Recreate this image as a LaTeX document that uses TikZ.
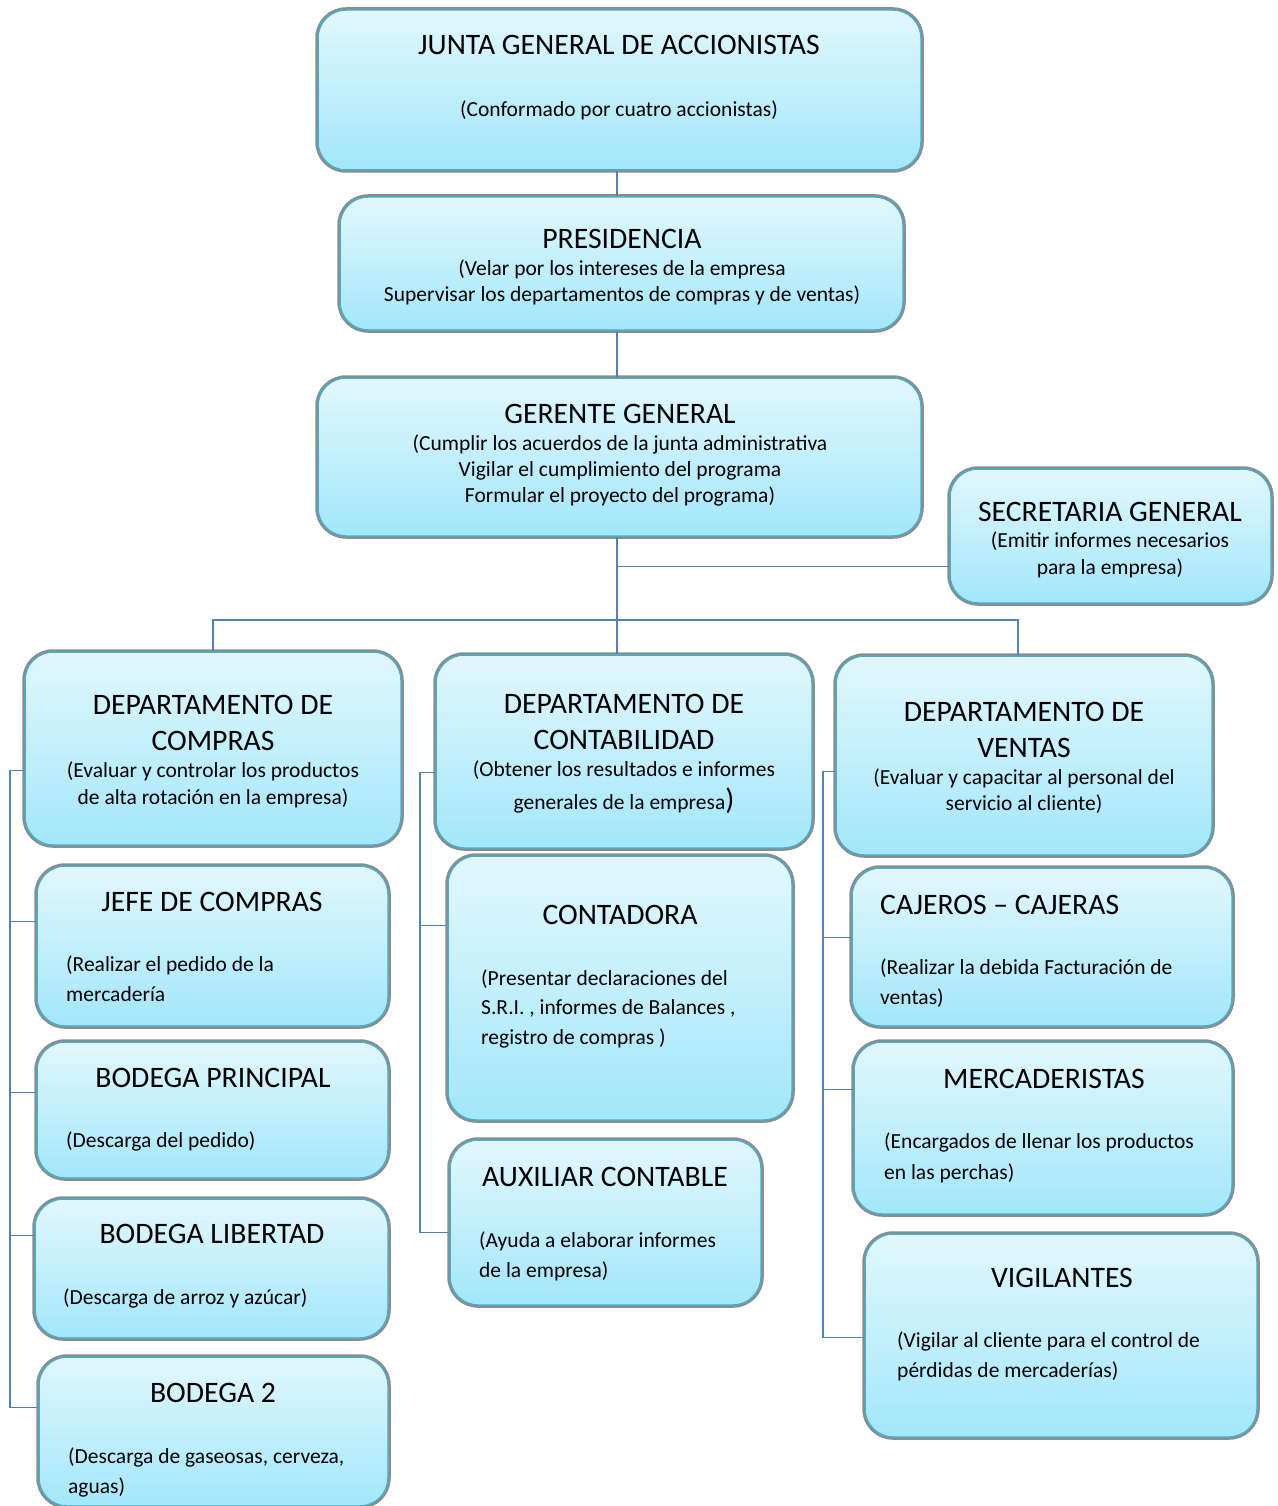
\documentclass[tikz,border=0pt]{standalone}
\usepackage{fontspec}
\setmainfont{Carlito}
\usepackage{xcolor}
\usepackage{tikz}
\usetikzlibrary{positioning}

\definecolor{unittop}{RGB}{226,247,253}
\definecolor{unitbot}{RGB}{162,231,250}
\definecolor{unitedge}{RGB}{75,172,198}
\definecolor{unitgray}{RGB}{140,140,140}
\definecolor{linkblue}{RGB}{79,129,189}

\begin{document}
\begin{tikzpicture}[
  x=1pt, y=-1pt,
  unit/.style={rectangle, rounded corners=28pt, draw=unitedge, line width=1.5pt,
               top color=unittop, bottom color=unitbot, inner sep=0pt,
               preaction={draw=unitgray, line width=5.5pt}},
  ttl/.style={anchor=base, align=center, inner sep=0pt,
              font=\fontsize{29.7}{36}\selectfont},
  sub/.style={anchor=base, align=center, inner sep=0pt,
              font=\fontsize{21.5}{26}\selectfont},
  subl/.style={sub, anchor=base west, align=left},
  link/.style={draw=linkblue, line width=1.3pt}
]
\useasboundingbox (0,0) rectangle (1277,1506);

% ---- Top of the chart ----
\node[unit, minimum width=603pt, minimum height=160pt] (junta)   at (619.5,90)    {};
\node[unit, minimum width=563pt, minimum height=133pt] (presid)  at (621.5,263.5) {};
\node[unit, minimum width=603pt, minimum height=158pt] (gerente) at (619.5,457)   {};
\node[unit, minimum width=321pt, minimum height=134pt] (secret)  at (1110.5,536)  {};

% (multi-line texts sit on the baseline of their last line)
\node[ttl] (junta-t) at (619,55) {JUNTA GENERAL DE ACCIONISTAS};
\node[sub] (junta-s) at (619,117) {(Conformado por cuatro accionistas)};
\node[ttl] (presid-t) at (622,248) {PRESIDENCIA};
\node[sub] (presid-s) at (622,301) {(Velar por los intereses de la empresa\\Supervisar los departamentos de compras y de ventas)};
\node[ttl] (gerente-t) at (620,423) {GERENTE GENERAL};
\node[sub] (gerente-s) at (620,502) {(Cumplir los acuerdos de la junta administrativa\\Vigilar el cumplimiento del programa\\Formular el proyecto del programa)};
\node[ttl] (secret-t) at (1110,521) {SECRETARIA GENERAL};
\node[sub, font=\fontsize{21.5}{27}\selectfont] (secret-s) at (1110,574) {(Emitir informes necesarios\\para la empresa)};

% ---- Departments ----
\node[unit, minimum width=376pt, minimum height=193pt] (dcompras) at (213,748.5)  {};
\node[unit, minimum width=376pt, minimum height=193pt] (dcontab)  at (624,751.5)  {};
\node[unit, minimum width=376pt, minimum height=199pt] (dventas)  at (1024,755.5) {};

\node[ttl] (dcompras-t) at (213,750) {DEPARTAMENTO DE\\COMPRAS};
\node[sub, font=\fontsize{21.5}{27}\selectfont] (dcompras-s) at (213,804) {(Evaluar y controlar los productos\\de alta rotación en la empresa)};
\node[ttl] (dcontab-t) at (624,749) {DEPARTAMENTO DE\\CONTABILIDAD};
\node[sub, font=\fontsize{21.5}{33}\selectfont] (dcontab-s) at (624,809) {(Obtener los resultados e informes\\generales de la empresa{\fontsize{29.7}{33}\selectfont)}};
\node[ttl] (dventas-t) at (1024,757) {DEPARTAMENTO DE\\VENTAS};
\node[sub] (dventas-s) at (1024,810) {(Evaluar y capacitar al personal del\\servicio al cliente)};

% ---- Compras column ----
\node[unit, minimum width=351pt, minimum height=160pt] (jefe)       at (212.5,946)    {};
\node[unit, minimum width=351pt, minimum height=136pt] (bprincipal) at (212.5,1110)   {};
\node[unit, minimum width=353pt, minimum height=139pt] (blibertad)  at (211.5,1268.5) {};
\node[unit, minimum width=349pt, minimum height=149pt] (bodega2)    at (213.5,1431.5) {};

\node[ttl] (jefe-t) at (212,911) {JEFE DE COMPRAS};
\node[subl, font=\fontsize{21.5}{30}\selectfont] (jefe-s) at (66,1001) {(Realizar el pedido de la\\mercadería};
\node[ttl] (bprincipal-t) at (213,1087) {BODEGA PRINCIPAL};
\node[subl] (bprincipal-s) at (66,1147) {(Descarga del pedido)};
\node[ttl] (blibertad-t) at (212,1243) {BODEGA LIBERTAD};
\node[subl] (blibertad-s) at (63,1304) {(Descarga de arroz y azúcar)};
\node[ttl] (bodega2-t) at (213,1402) {BODEGA 2};
\node[subl, font=\fontsize{21.5}{30}\selectfont] (bodega2-s) at (68,1493) {(Descarga de gaseosas, cerveza,\\aguas)};

% ---- Contabilidad column ----
\node[unit, minimum width=344pt, minimum height=264pt] (contadora) at (620,988)      {};
\node[unit, minimum width=311pt, minimum height=165pt] (auxiliar)  at (605.5,1222.5) {};

\node[ttl] (contadora-t) at (620,924) {CONTADORA};
\node[subl, font=\fontsize{21.5}{29.5}\selectfont] (contadora-s) at (481,1044) {(Presentar declaraciones del\\S.R.I. , informes de Balances ,\\registro de compras )};
\node[ttl] (auxiliar-t) at (605,1186) {AUXILIAR CONTABLE};
\node[subl, font=\fontsize{21.5}{30}\selectfont] (auxiliar-s) at (479,1277) {(Ayuda a elaborar informes\\de la empresa)};

% ---- Ventas column ----
\node[unit, minimum width=380pt, minimum height=158pt] (cajeros) at (1042,947)    {};
\node[unit, minimum width=378pt, minimum height=172pt] (mercad)  at (1043,1128)   {};
\node[unit, minimum width=392pt, minimum height=203pt] (vigil)   at (1061,1335.5) {};

\node[ttl, anchor=base west] (cajeros-t) at (880,914) {CAJEROS – CAJERAS};
\node[subl, font=\fontsize{21.5}{30}\selectfont] (cajeros-s) at (880,1004) {(Realizar la debida Facturación de\\ventas)};
\node[ttl] (mercad-t) at (1044,1088) {MERCADERISTAS};
\node[subl, font=\fontsize{21.5}{31}\selectfont] (mercad-s) at (884,1179) {(Encargados de llenar los productos\\en las perchas)};
\node[ttl] (vigil-t) at (1062,1287) {VIGILANTES};
\node[subl, font=\fontsize{21.5}{30}\selectfont] (vigil-s) at (897,1377) {(Vigilar al cliente para el control de\\pérdidas de mercaderías)};

% ---- Connectors ----
\coordinate (trunk) at (617,0);
\coordinate (hbar)  at (617,620);
\coordinate (lbus)  at (10,1000);
\coordinate (mbus)  at (420,1000);
\coordinate (rbus)  at (823,1000);

\draw[link] (junta.south -| trunk) -- (presid.north -| trunk);
\draw[link] (presid.south -| trunk) -- (gerente.north -| trunk);
\draw[link] (gerente.south -| trunk) -- (dcontab.north -| trunk);
\draw[link] ([yshift=-98pt]secret.north west) -- ++(-333,0);
\draw[link] (dcompras.north) |- (hbar) -| ([xshift=-6pt]dventas.north);

\draw[link] ([yshift=-119pt]dcompras.north west) -| (lbus) |- ([yshift=-51pt]bodega2.north west);
\foreach \n/\d/\l in {jefe/56/27, bprincipal/51/27, blibertad/37/25}
  \draw[link] ([yshift=-\d pt]\n.north west) -- ++(-\l,0);

\draw[link] ([yshift=-118pt]dcontab.north west) -| (mbus) |- ([yshift=-93pt]auxiliar.north west);
\draw[link] ([yshift=-70pt]contadora.north west) -- ++(-28,0);

\draw[link] ([yshift=-116pt]dventas.north west) -| (rbus) |- ([yshift=-104pt]vigil.north west);
\draw[link] ([yshift=-70pt]cajeros.north west) -- ++(-29,0);
\draw[link] ([yshift=-48pt]mercad.north west) -- ++(-31,0);

\end{tikzpicture}
\end{document}
